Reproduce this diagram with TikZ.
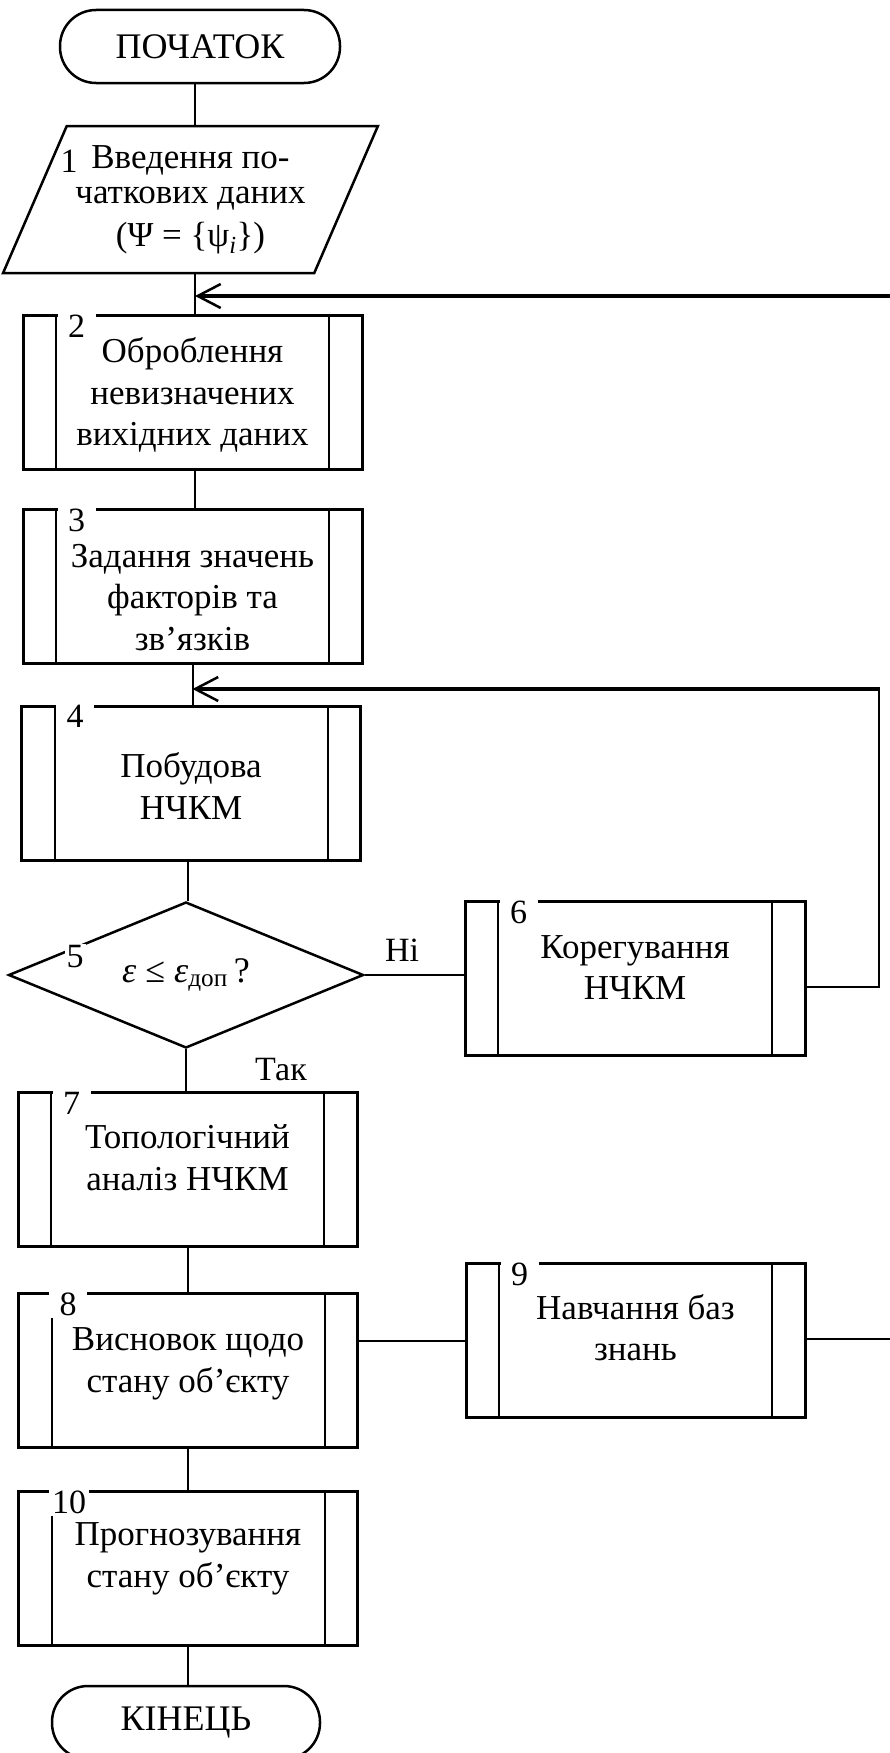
\documentclass[tikz,border=0pt]{standalone}
\usepackage{fontspec}
\setmainfont{Liberation Serif}
\usetikzlibrary{arrows.meta,positioning,shapes.geometric}

\begin{document}
\begin{tikzpicture}[x=1pt,y=-1pt,line width=2pt,
  term/.style={draw,line width=2.5pt,rounded corners=36pt,
    minimum width=280pt,minimum height=73pt,
    font=\fontsize{36}{41.5}\selectfont},
  sub/.style={draw,line width=3pt,minimum width=339pt,
    minimum height=154pt,
    path picture={\draw[line width=2pt]
      ([xshift=33pt]path picture bounding box.north west) --
      ([xshift=33pt]path picture bounding box.south west)
      ([xshift=-33pt]path picture bounding box.north east) --
      ([xshift=-33pt]path picture bounding box.south east);}},
  txt/.style={align=center,inner sep=0pt,
    font=\fontsize{35}{41.5}\selectfont},
  io/.style={draw,line width=2.5pt,trapezium,trapezium stretches=true,
    trapezium left angle=61.4,trapezium right angle=118.6,
    minimum width=375pt,minimum height=147pt,inner sep=0pt,
    align=center,font=\fontsize{35}{35}\selectfont},
  cond/.style={draw,line width=2.5pt,diamond,minimum width=355pt,
    minimum height=146pt,inner sep=0pt},
  num/.style={fill=white,inner sep=3pt,minimum width=38pt,
    anchor=north west,font=\fontsize{34}{34}\selectfont},
  lbl/.style={font=\fontsize{34}{34}\selectfont},
  ret/.style={line width=4.5pt,
    -{Straight Barb[length=23pt,width=24pt,line width=2.5pt]}}
]
\useasboundingbox (0,0) rectangle (890,1753);

%% main column
\node[term] (start) at (200,46.5) {ПОЧАТОК};
\node[io] (b1) at (190.5,199.5) {Введення по-\\чаткових даних\\[8pt]
  (Ψ = \{ψ\textsubscript{\textit{i}}\})};
\node[sub] (b2) at (192.5,392) {};
\node[sub] (b3) at (192.5,586.5) {};
\node[sub] (b4) at (191,783) {};
\node[cond] (d5) at (186,975) {};
\node[sub] (b7) at (187.5,1169.5) {};
\node[sub] (b8) at (188,1370) {};
\node[sub] (b10) at (188,1568) {};
\node[term,minimum width=268pt] (end) at (186,1722.5) {КІНЕЦЬ};

%% right column
\node[sub,minimum width=340pt] (b6) at (635,978.5) {};
\node[sub] (b9) at (635.5,1340.5) {};

%% block texts
\node[txt] (t2) at ([yshift=-3pt]b2) {Оброблення\\невизначених\\вихідних даних};
\node[txt] (t3) at ([yshift=-11pt]b3) {Задання значень\\факторів та\\зв’язків};
\node[txt] (t4) at ([yshift=-3pt]b4) {Побудова\\НЧКМ};
\node[txt,font=\fontsize{36}{36}\selectfont] (t5) at (d5)
  {\textit{ε} ≤ \textit{ε}\textsubscript{доп}\,?};
\node[txt] (t6) at ([yshift=11pt]b6) {Корегування\\НЧКМ};
\node[txt] (t7) at ([yshift=12pt]b7) {Топологічний\\аналіз НЧКМ};
\node[txt] (t8) at ([yshift=6pt]b8) {Висновок щодо\\стану об’єкту};
\node[txt] (t9) at ([yshift=13pt]b9) {Навчання баз\\знань};
\node[txt] (t10) at ([yshift=9pt]b10) {Прогнозування\\стану об’єкту};

%% block numbers
\node[fill=white,inner sep=2pt,font=\fontsize{34}{34}\selectfont]
  (n1) at (69,161) {1};
\node[num] (n2) at ([xshift=35pt,yshift=3pt]b2.north west) {2};
\node[num] (n3) at ([xshift=35pt,yshift=3pt]b3.north west) {3};
\node[num] (n4) at ([xshift=35pt,yshift=3pt]b4.north west) {4};
\node[fill=white,inner sep=2pt,font=\fontsize{34}{34}\selectfont]
  (n5) at (75,957) {5};
\node[num] (n6) at ([xshift=35pt,yshift=3pt]b6.north west) {6};
\node[num] (n7) at ([xshift=35pt,yshift=3pt]b7.north west) {7};
\node[num] (n8) at ([xshift=31pt,yshift=3pt]b8.north west) {8};
\node[num] (n9) at ([xshift=35pt,yshift=3pt]b9.north west) {9};
\node[num] (n10) at ([xshift=31pt,yshift=3pt]b10.north west) {10};

%% connectors
\draw ([xshift=-5pt]start.south) -- ([xshift=-5pt]start.south |- b1.north);
\draw ([xshift=4.5pt]b1.south) -- ([xshift=4.5pt]b1.south |- b2.north);
\draw ([xshift=2.5pt]b2.south) -- ([xshift=2.5pt]b2.south |- b3.north);
\draw (b3.south) -- (b3.south |- b4.north);
\draw ([xshift=-3pt]b4.south) -- ([xshift=-3pt]b4.south |- d5.north);
\draw (d5.south) -- (d5.south |- b7.north);
\draw (b7.south) -- (b7.south |- b8.north);
\draw (b8.south) -- (b8.south |- b10.north);
\draw (b10.south) -- (b10.south |- end.north);
\draw (d5.east) -- (b6.west |- d5.east);
\draw (b8.east |- b9.west) -- (b9.west);
\node[lbl] (no) at (402,950) {Ні};
\node[lbl] (yes) at (281,1070) {Так};

%% feedback lines
\coordinate (fbA) at (890,296);
\coordinate (fbB) at (879,689);
\coordinate (fbC) at (890,1339);
\draw[ret] (fbA) -- ([xshift=4.5pt]fbA -| b1.south);
\draw ([yshift=-8.5pt]b6.east) -| (fbB);
\draw[ret] ([xshift=1pt]fbB) -- (fbB -| b3.south);
\draw (b9.east |- fbC) -- (fbC);
\end{tikzpicture}
\end{document}
